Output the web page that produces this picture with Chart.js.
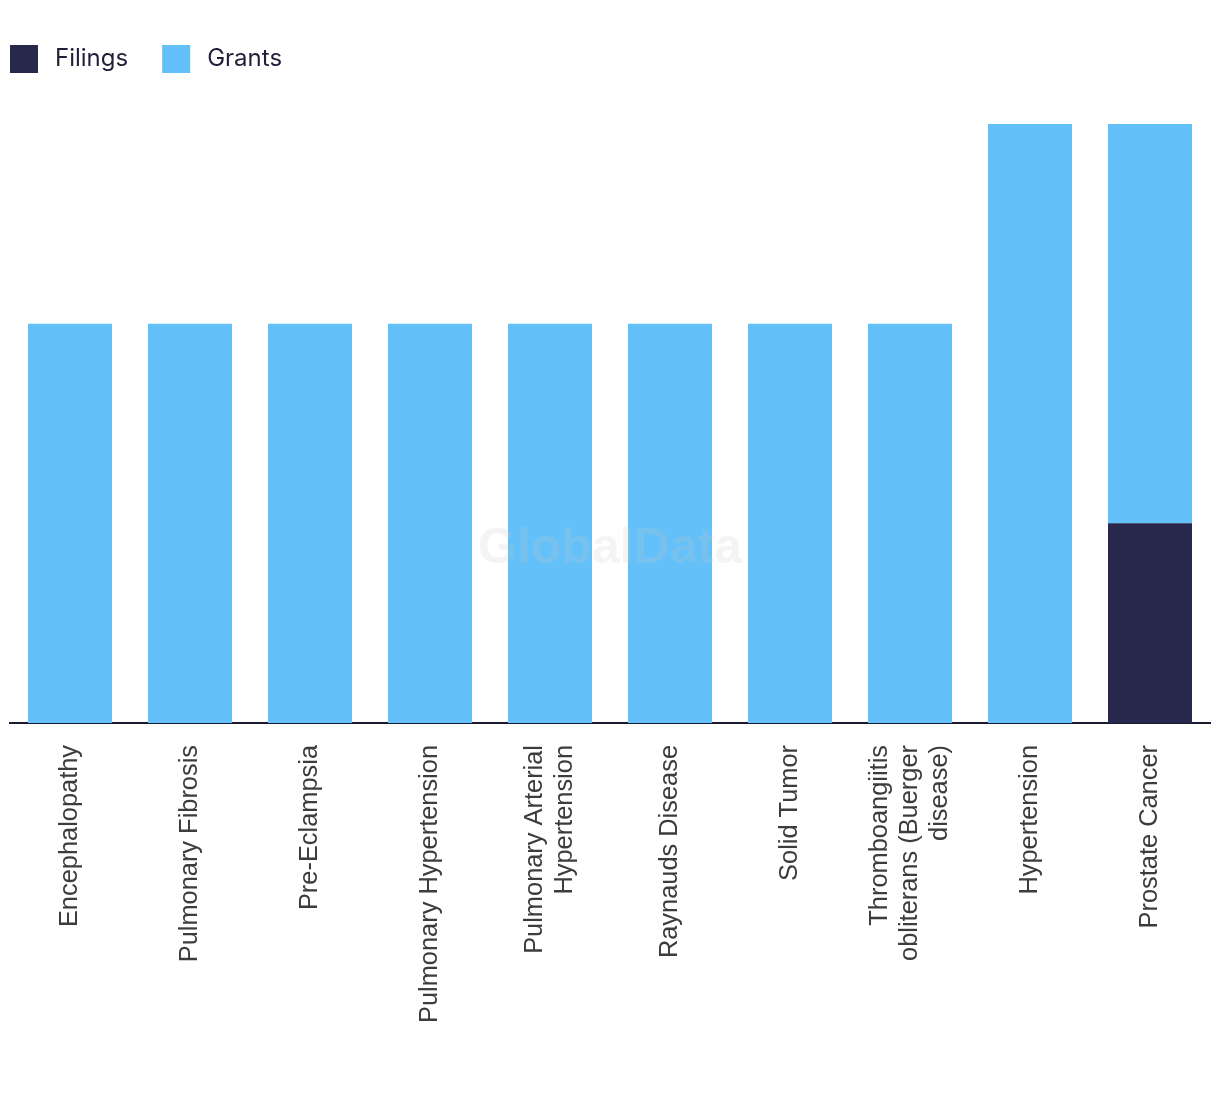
<!DOCTYPE html>
<html>
<head>
<meta charset="utf-8">
<script src="https://cdn.jsdelivr.net/npm/chart.js@4.4.1/dist/chart.umd.min.js"></script>
<style>
  html, body { margin: 0; padding: 0; background: #ffffff; }
  #wrap { width: 1220px; height: 1094px; position: relative; }
</style>
</head>
<body>
<div id="wrap"><canvas id="c"></canvas></div>
<script>
const categories = [
  "Encephalopathy",
  "Pulmonary Fibrosis",
  "Pre-Eclampsia",
  "Pulmonary Hypertension",
  ["Pulmonary Arterial", "Hypertension"],
  "Raynauds Disease",
  "Solid Tumor",
  ["Thromboangiitis", "obliterans (Buerger", "disease)"],
  "Hypertension",
  "Prostate Cancer"
];
const filings = [0, 0, 0, 0, 0, 0, 0, 0, 0, 1];
const grants  = [2, 2, 2, 2, 2, 2, 2, 2, 3, 2];

const LABEL_FONT = '25.4px "Liberation Sans", Arial, sans-serif';
const LABEL_LH = 30;
const LABEL_GAP = 22;

// Custom legend drawn from dataset labels/colours
const customLegend = {
  id: 'customLegend',
  afterDraw(chart) {
    const ctx = chart.ctx;
    ctx.save();
    ctx.font = '24px Inter, "Open Sans", sans-serif';
    ctx.textBaseline = 'middle';
    ctx.textAlign = 'left';
    let x = 10;
    const boxTop = 45, box = 28;
    chart.data.datasets.forEach(ds => {
      ctx.fillStyle = ds.backgroundColor;
      ctx.fillRect(x, boxTop, box, box);
      ctx.fillStyle = '#1f1f3a';
      const tx = x + box + 17;
      ctx.fillText(ds.label, tx, boxTop + box / 2);
      x = tx + ctx.measureText(ds.label).width + 34;
    });
    ctx.restore();
  }
};

// Rotated, centred multi-line category labels, positioned via the x scale
const tickLabels = {
  id: 'tickLabels',
  afterDraw(chart) {
    const xs = chart.scales.x;
    const ctx = chart.ctx;
    ctx.save();
    ctx.font = LABEL_FONT;
    ctx.fillStyle = '#3c3c3c';
    ctx.textAlign = 'right';
    ctx.textBaseline = 'middle';
    chart.data.labels.forEach((lab, i) => {
      const lines = Array.isArray(lab) ? lab : [lab];
      const px = xs.getPixelForTick(i);
      ctx.save();
      ctx.translate(px, xs.top + LABEL_GAP);
      ctx.rotate(-Math.PI / 2);
      const n = lines.length;
      lines.forEach((ln, j) => {
        ctx.fillText(ln, 0, (j - (n - 1) / 2) * LABEL_LH);
      });
      ctx.restore();
    });
    ctx.restore();
  }
};

const watermark = {
  id: 'watermark',
  afterDatasetsDraw(chart) {
    const ctx = chart.ctx;
    const a = chart.chartArea;
    ctx.save();
    ctx.font = 'bold 50px "Liberation Sans", Arial, sans-serif';
    ctx.fillStyle = 'rgba(200,200,200,0.2)';
    ctx.textAlign = 'center';
    ctx.textBaseline = 'middle';
    ctx.fillText('GlobalData', (a.left + a.right) / 2, 549);
    ctx.restore();
  }
};

new Chart(document.getElementById('c'), {
  type: 'bar',
  data: {
    labels: categories,
    datasets: [
      { label: 'Filings', data: filings, backgroundColor: '#27284b', categoryPercentage: 0.7, barPercentage: 1.0 },
      { label: 'Grants', data: grants, backgroundColor: '#63c0f9', categoryPercentage: 0.7, barPercentage: 1.0 }
    ]
  },
  options: {
    responsive: true,
    maintainAspectRatio: false,
    animation: false,
    layout: { padding: { left: 10, right: 10, top: 124, bottom: 0 } },
    plugins: {
      legend: { display: false },
      tooltip: { enabled: false }
    },
    scales: {
      x: {
        stacked: true,
        grid: { display: false, drawTicks: false },
        border: { display: true, color: '#1a1a2e', width: 2 },
        ticks: { display: false, autoSkip: false },
        afterFit(scale) { scale.height = 371; }
      },
      y: {
        stacked: true,
        display: false,
        min: 0,
        max: 3
      }
    }
  },
  plugins: [customLegend, tickLabels, watermark]
});
</script>
</body>
</html>
